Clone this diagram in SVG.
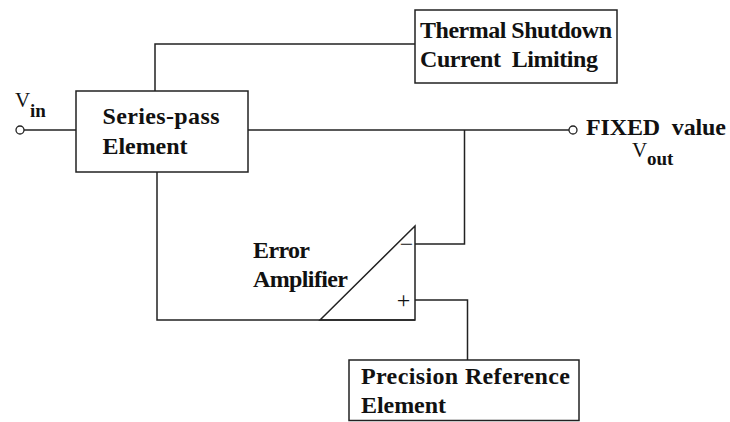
<svg xmlns="http://www.w3.org/2000/svg" width="730" height="422" viewBox="0 0 730 422">
<style>
  .box { fill: #ffffff; stroke: #222222; stroke-width: 1.5; }
  .wire { fill: none; stroke: #222222; stroke-width: 1.5; }
  .term { fill: #ffffff; stroke: #222222; stroke-width: 1.3; }
  text { font-family: "Liberation Serif", "Times New Roman", serif; fill: #111111; }
  .lbl { font-size: 24px; font-weight: bold; }
  .v { font-size: 21px; font-weight: normal; }
  .sub { font-size: 19px; font-weight: bold; }
  .sign { font-size: 24px; text-anchor: middle; }
</style>
<rect width="730" height="422" fill="#ffffff"/>
<g id="connectors">
  <polyline class="wire" points="155,91 155,44 415,44"/>
  <line class="wire" x1="24" y1="130" x2="76" y2="130"/>
  <line class="wire" x1="248" y1="130" x2="569" y2="130"/>
  <polyline class="wire" points="464.5,130 464.5,244 415,244"/>
  <polyline class="wire" points="157,172 157,320 415,320"/>
  <polyline class="wire" points="415,300 467.5,300 467.5,360"/>
</g>
<g id="vin">
  <circle class="term" cx="20" cy="130" r="4"/>
  <text x="15" y="107" class="v">V</text>
  <text x="30" y="117" class="sub">in</text>
</g>
<g id="vout">
  <circle class="term" cx="573" cy="130" r="4"/>
  <text x="586" y="135" class="lbl" xml:space="preserve" textLength="140" lengthAdjust="spacing">FIXED  value</text>
  <text x="632" y="157" class="v">V</text>
  <text x="647" y="165" class="sub">out</text>
</g>
<g id="series-pass">
  <rect class="box" x="76" y="91" width="172" height="81"/>
  <text x="102.5" y="123.5" class="lbl" textLength="117" lengthAdjust="spacing">Series-pass</text>
  <text x="102.5" y="153.5" class="lbl" textLength="85" lengthAdjust="spacing">Element</text>
</g>
<g id="thermal">
  <rect class="box" x="415" y="10" width="202" height="73"/>
  <text x="420" y="38" class="lbl" textLength="192" lengthAdjust="spacing">Thermal Shutdown</text>
  <text x="420" y="67" class="lbl" xml:space="preserve" textLength="178" lengthAdjust="spacing">Current  Limiting</text>
</g>
<g id="error-amplifier">
  <polygon class="wire" points="320,320 415,226 415,320"/>
  <text x="253" y="258" class="lbl" textLength="57" lengthAdjust="spacing">Error</text>
  <text x="253" y="287" class="lbl" textLength="95" lengthAdjust="spacing">Amplifier</text>
  <text x="406.5" y="252" class="sign">−</text>
  <text x="403.5" y="307.5" class="sign" font-size="28">+</text>
</g>
<g id="precision-reference">
  <rect class="box" x="349" y="360" width="230" height="60.5"/>
  <text x="361" y="383.5" class="lbl" textLength="209" lengthAdjust="spacing">Precision Reference</text>
  <text x="361" y="413" class="lbl" textLength="85" lengthAdjust="spacing">Element</text>
</g>
</svg>
